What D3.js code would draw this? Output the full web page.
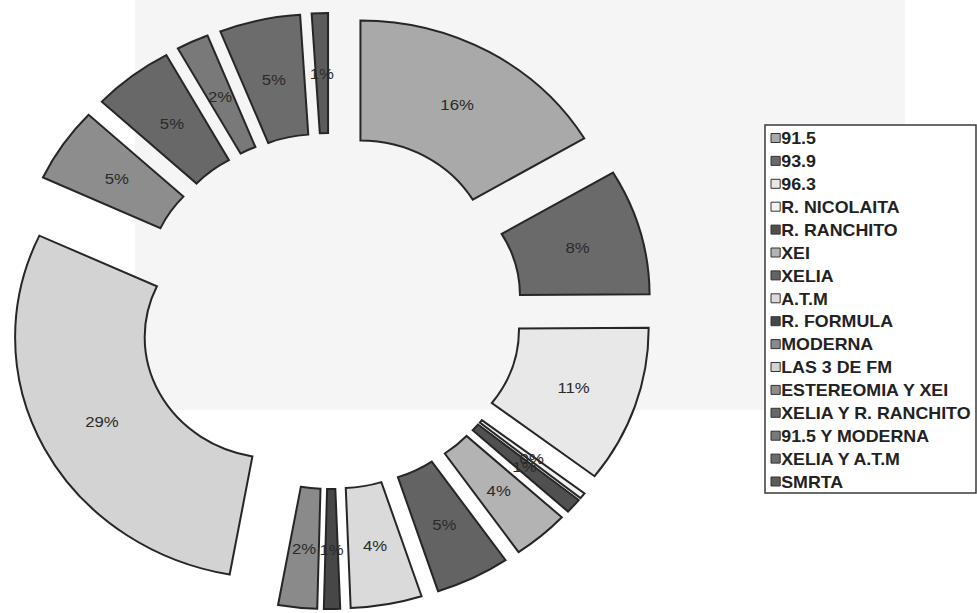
<!DOCTYPE html>
<html>
<head>
<meta charset="utf-8">
<script src="https://cdn.jsdelivr.net/npm/d3@7"></script>
<style>
  html, body { margin: 0; padding: 0; background: #ffffff; }
  svg { display: block; }
  text { font-family: "Liberation Sans", Arial, sans-serif; }
</style>
</head>
<body>
<svg id="chart" width="977" height="613"></svg>
<script>
// ---- data (shares in %, labels are the rounded shares) ----
const categories = ["91.5", "93.9", "96.3", "R. NICOLAITA", "R. RANCHITO", "XEI", "XELIA", "A.T.M",
  "R. FORMULA", "MODERNA", "LAS 3 DE FM", "ESTEREOMIA Y XEI", "XELIA Y R. RANCHITO",
  "91.5 Y MODERNA", "XELIA Y A.T.M", "SMRTA"];
const values = [16.4, 8.4, 10.5, 0.4, 1.0, 3.5, 4.6, 4.4, 1.0, 2.4, 29, 5, 5, 2, 5, 1];
const colors = ["#a9a9a9", "#6a6a6a", "#e8e8e8", "#f2f2f2", "#505050", "#b3b3b3", "#636363", "#dadada",
  "#474747", "#8a8a8a", "#d3d3d3", "#8d8d8d", "#686868", "#797979", "#6c6c6c", "#5c5c5c"];

// ---- layout ----
const cx = 330, cy = 311, sx = 1.08;
const rIn = 121, rOut = 241, explode = 57;

const svg = d3.select("#chart");

// faint show-through panel from the scanned page
svg.append("rect").attr("x", 135).attr("y", 0).attr("width", 770).attr("height", 410)
  .attr("fill", "#f5f5f5");

const pie = d3.pie().sort(null).value(d => d.v);
const arcs = pie(values.map((v, i) => ({ v, name: categories[i], color: colors[i] })));
const arc = d3.arc().innerRadius(rIn).outerRadius(rOut);

const g = svg.append("g").attr("transform", `translate(${cx},${cy}) scale(${sx},1)`);

function offset(a) {
  const m = (a.startAngle + a.endAngle) / 2;
  return [explode * Math.sin(m), -explode * Math.cos(m)];
}

g.selectAll("path.slice").data(arcs).join("path")
  .attr("class", "slice")
  .attr("transform", a => { const o = offset(a); return `translate(${o[0]},${o[1]})`; })
  .attr("d", arc)
  .attr("fill", a => a.data.color)
  .attr("stroke", "#262626")
  .attr("stroke-width", 2)
  .attr("vector-effect", "non-scaling-stroke");

// percentage labels
g.selectAll("text.pct").data(arcs).join("text")
  .attr("class", "pct")
  .attr("x", a => offset(a)[0] + arc.centroid(a)[0])
  .attr("y", a => offset(a)[1] + arc.centroid(a)[1])
  .attr("text-anchor", "middle")
  .attr("dominant-baseline", "central")
  .attr("font-size", 15.5)
  .attr("fill", "#2a2a2a")
  .text(a => Math.round(a.data.v) + "%");

// ---- legend ----
const lx = 765, ly = 125, lw = 211, lh = 368;
svg.append("rect").attr("x", lx).attr("y", ly).attr("width", lw).attr("height", lh)
  .attr("fill", "#ffffff").attr("stroke", "#3a3a3a").attr("stroke-width", 1.5);
const lg = svg.append("g").attr("transform", `translate(${lx + 6},0) scale(${sx},1)`);
const step = 22.9, y0 = 138;
const items = lg.selectAll("g.item").data(categories).join("g").attr("class", "item")
  .attr("transform", (d, i) => `translate(0,${y0 + i * step})`);
items.append("rect").attr("x", 0).attr("y", -4.5).attr("width", 8.5).attr("height", 9)
  .attr("fill", (d, i) => colors[i]).attr("stroke", "#333").attr("stroke-width", 1)
  .attr("vector-effect", "non-scaling-stroke");
items.append("text").attr("x", 9.5).attr("y", 0.5)
  .attr("dominant-baseline", "central")
  .attr("font-size", 16.5).attr("font-weight", "bold").attr("fill", "#222")
  .text(d => d);
</script>
</body>
</html>
